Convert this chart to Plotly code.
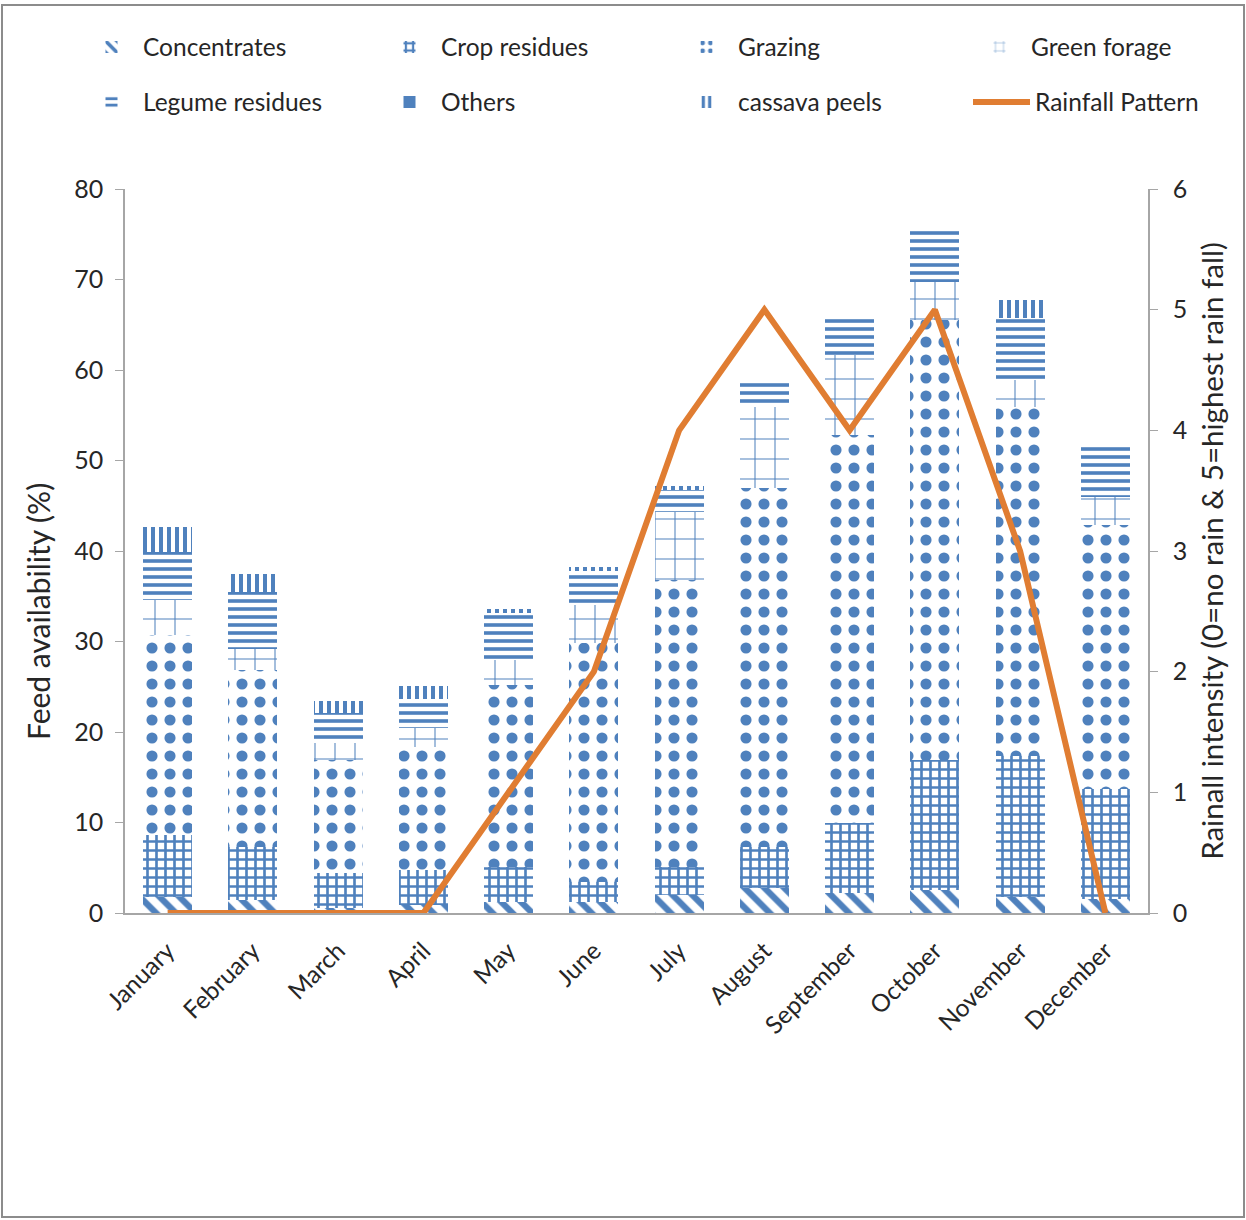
import plotly.graph_objects as go

months = ["January", "February", "March", "April", "May", "June", "July",
          "August", "September", "October", "November", "December"]

# Feed availability (%) by source, stacked bottom to top
concentrates = [1.8, 1.4, 0.5, 0.9, 1.2, 1.2, 2.0, 2.8, 2.2, 2.5, 1.8, 1.6]
crop_residues = [6.8, 5.9, 3.9, 3.9, 3.9, 2.2, 3.1, 4.5, 7.7, 14.4, 15.5, 12.1]
grazing = [22.1, 19.6, 12.5, 13.5, 20.1, 26.4, 31.7, 39.7, 42.9, 48.6, 38.6, 29.2]
green_forage = [3.9, 2.3, 1.9, 2.1, 2.8, 4.2, 7.5, 8.9, 8.9, 4.2, 3.0, 3.1]
legume_residues = [5.3, 6.3, 3.3, 3.2, 5.1, 3.8, 2.4, 2.8, 4.0, 6.1, 6.8, 5.9]
others = [0, 0, 0, 0, 0, 0, 0, 0, 0, 0, 0, 0]
cassava_peels = [2.8, 2.0, 1.3, 1.5, 0.5, 0.4, 0.5, 0.0, 0.0, 0.0, 2.0, 0.0]

# Rainfall intensity (0 = no rain, 5 = highest rain fall)
rainfall = [0, 0, 0, 0, 1, 2, 4, 5, 4, 5, 3, 0]

BLUE = "#4F81BD"
ORANGE = "#E07D32"
TEXT = "#262626"
AXIS = "#A6A6A6"
FONT = "Lato"

W, H = 1246, 1220
L, R, T, B = 125, 98, 189, 307
PW, PH = W - L - R, H - T - B


def px_x(x):
    return (x - L) / PW


def px_y(y):
    return (H - B - y) / PH


series = [
    ("Concentrates", concentrates, dict(shape="\\", size=14, solidity=0.45)),
    ("Crop residues", crop_residues, dict(shape="+", size=9, solidity=0.5)),
    ("Grazing", grazing, dict(shape=".", size=18, solidity=0.3)),
    ("Green forage", green_forage, dict(shape="+", size=20, solidity=0.1)),
    ("Legume residues", legume_residues, dict(shape="-", size=8, solidity=0.45)),
    ("Others", others, None),
    ("cassava peels", cassava_peels, dict(shape="|", size=8, solidity=0.5)),
]

# one legend per entry, laid out as a 4 x 2 grid above the plot
legend_cols = [80, 378, 675, 968]
legend_rows = [47, 102]
legend_ids = ["legend"] + [f"legend{i}" for i in range(2, 9)]

fig = go.Figure()
for i, (name, vals, pat) in enumerate(series):
    if pat is None:
        marker = dict(color=BLUE, line=dict(width=0))
    else:
        marker = dict(color="white", line=dict(width=0),
                      pattern=dict(fgcolor=BLUE, bgcolor="white", fillmode="replace", **pat))
    fig.add_trace(go.Bar(x=months, y=vals, name=name, marker=marker,
                         legend=legend_ids[i], showlegend=True))

fig.add_trace(go.Scatter(x=months, y=rainfall, name="Rainfall Pattern", mode="lines",
                         line=dict(color=ORANGE, width=6), yaxis="y2",
                         legend=legend_ids[7], showlegend=True))

legend_layout = {}
for i, lid in enumerate(legend_ids):
    col, row = i % 4, i // 4
    legend_layout[lid] = dict(
        x=px_x(legend_cols[col]), y=px_y(legend_rows[row]),
        xanchor="left", yanchor="middle", orientation="h",
        itemwidth=57 if i == 7 else 53,
        font=dict(family=FONT, size=24.5, color=TEXT),
        bgcolor="rgba(0,0,0,0)", visible=True,
    )

fig.update_layout(
    width=W, height=H,
    margin=dict(l=L, r=R, t=T, b=B, autoexpand=False),
    plot_bgcolor="white", paper_bgcolor="white",
    showlegend=True,
    barmode="stack", bargap=0.425,
    font=dict(family=FONT, size=24, color=TEXT),
    xaxis=dict(tickangle=-45, tickfont=dict(family=FONT, size=24.5, color=TEXT),
               showline=True, linecolor=AXIS, linewidth=1.5, ticks="",
               ticklabelstandoff=12, showgrid=False),
    yaxis=dict(range=[0, 80], dtick=10, showgrid=False, zeroline=False,
               showline=True, linecolor=AXIS, linewidth=1.5,
               ticks="outside", ticklen=8, tickcolor=AXIS, ticklabelstandoff=7,
               tickfont=dict(family=FONT, size=25, color=TEXT)),
    yaxis2=dict(range=[0, 6], dtick=1, overlaying="y", side="right", showgrid=False,
                zeroline=False, showline=True, linecolor=AXIS, linewidth=1.5,
                ticks="outside", ticklen=8, tickcolor=AXIS, ticklabelstandoff=10,
                tickfont=dict(family=FONT, size=25, color=TEXT),
                title=dict(text="Rainall intensity (0=no rain & 5=highest rain fall)",
                           font=dict(family=FONT, size=29.5, color=TEXT), standoff=16)),
    annotations=[dict(text="Feed availability (%)", textangle=-90, showarrow=False,
                      xref="paper", yref="paper", x=px_x(38), y=px_y(612),
                      xanchor="center", yanchor="middle",
                      font=dict(family=FONT, size=30, color=TEXT))],
    shapes=[dict(type="rect", xref="paper", yref="paper",
                 x0=px_x(2), x1=px_x(1244), y0=px_y(1217), y1=px_y(5),
                 line=dict(color="#8C8C8C", width=2), fillcolor="rgba(0,0,0,0)", layer="below")],
    **legend_layout,
)

fig.write_html("out.html")
